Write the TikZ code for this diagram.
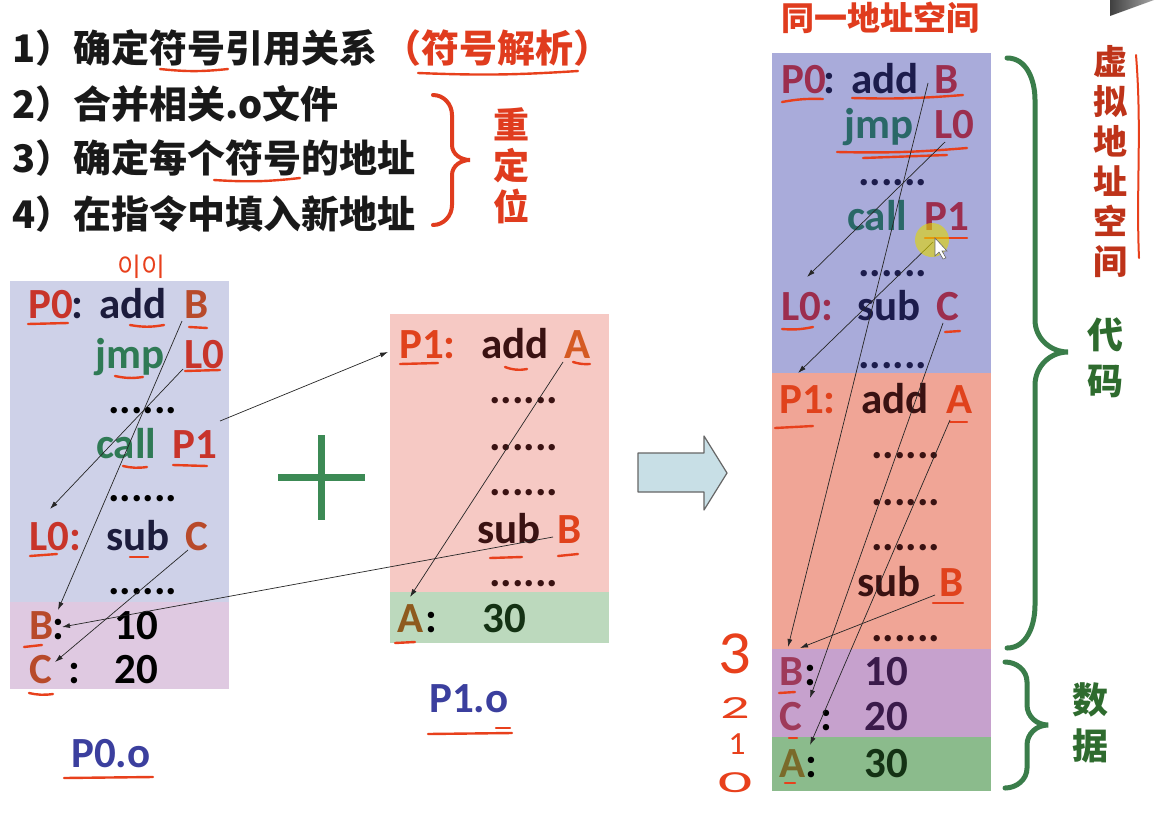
\documentclass[tikz,border=0pt]{standalone}
\usepackage{fontspec}
\usetikzlibrary{arrows.meta}
\newfontfamily\carl{Carlito}
\newfontfamily\cjk{Noto Sans CJK SC}
\newfontfamily\krf{Noto Sans CJK KR}
\definecolor{lblue}{HTML}{CED1E8}
\definecolor{lpurp}{HTML}{DFC9E1}
\definecolor{lpink}{HTML}{F6C9C4}
\definecolor{lgrn}{HTML}{BCD9BD}
\definecolor{rblue}{HTML}{A9ABDA}
\definecolor{rsalm}{HTML}{F0A596}
\definecolor{rpurp}{HTML}{C6A1CD}
\definecolor{rgrn}{HTML}{8BBB8C}
\definecolor{ulred}{HTML}{E8401C}
\definecolor{tred}{HTML}{E03C1E}
\definecolor{cred}{HTML}{C8342A}
\definecolor{cbrown}{HTML}{B84A2A}
\definecolor{cnavy}{HTML}{1C1C3C}
\definecolor{cgreen}{HTML}{2F7A55}
\definecolor{pred}{HTML}{E0421C}
\definecolor{pbrown}{HTML}{3A1212}
\definecolor{porange}{HTML}{D55A22}
\definecolor{polive}{HTML}{8E5A1E}
\definecolor{dgreen}{HTML}{143214}
\definecolor{rmar}{HTML}{9C2E4E}
\definecolor{rteal}{HTML}{2A6868}
\definecolor{rnavy}{HTML}{1C1C4C}
\definecolor{rplum}{HTML}{3A1A4A}
\definecolor{rdmar}{HTML}{9E3A5A}
\definecolor{rolive}{HTML}{7A6A2A}
\definecolor{fblue}{HTML}{3B3F9E}
\definecolor{brgreen}{HTML}{3A7D4A}
\definecolor{txgreen}{HTML}{2E6B2E}
\definecolor{plusg}{HTML}{3C8A55}
\definecolor{arrowfill}{HTML}{C8DFE6}
\newcommand\tokn[5]{\node[tk,text=#4] (#1) at (#2,#3) {#5};}
\begin{document}
\begin{tikzpicture}[x=1pt,y=-1pt,
  tk/.style={anchor=base west, inner sep=0pt, font={\fontsize{43}{44}\selectfont\carl\bfseries}},
  cjkline/.style={anchor=base west, inner sep=0pt, font={\fontsize{38}{40}\selectfont\cjk\bfseries}, text=black!90},
  lnk/.style={-{Latex[length=8pt,width=5pt]}, line width=0.7pt, black!85},
  ul/.style={draw=ulred, line width=2.4pt, line cap=round},
  hand/.style={inner sep=0pt, text=ulred, font={\fontsize{34}{34}\selectfont\carl}},
  brace/.style={line width=5pt, line cap=round, draw=brgreen},
  vtext/.style={align=center, inner sep=0pt, font={\fontsize{34}{40}\selectfont\cjk\bfseries}}]
\useasboundingbox (0,0) rectangle (1158,819);
\fill[white] (0,0) rectangle (1158,819);

% ---------- boxes ----------
\fill[lblue] (10,281) rectangle (229,602);
\fill[lpurp] (10,602) rectangle (229,689);
\fill[lpink] (390,314) rectangle (609,592);
\fill[lgrn]  (390,592) rectangle (609,643);
\fill[rblue] (772,53) rectangle (991,373);
\fill[rsalm] (772,373) rectangle (991,649);
\fill[rpurp] (772,649) rectangle (991,737);
\fill[rgrn]  (772,737) rectangle (991,791);

% ---------- top text ----------
\node[cjkline] (l1) at (12,62) {1）确定符号引用关系};
\node[cjkline, text=tred] (l1r) at ([xshift=6pt]l1.base east) {（符号解析）};
\node[cjkline] (l2) at (12,118) {2）合并相关.o文件};
\node[cjkline] (l3) at (12,172) {3）确定每个符号的地址};
\node[cjkline] (l4) at (12,228) {4）在指令中填入新地址};
\draw[line width=4pt, draw=tred, line cap=round] (433,95) to[out=0,in=90] (452,115) -- (452,145) to[out=-90,in=180] (470,160) to[out=180,in=90] (452,175) -- (452,205) to[out=-90,in=0] (433,225);
\node[vtext, text=tred, font={\fontsize{36}{41}\selectfont\cjk\bfseries}] (cdw) at (511,166) {重\\定\\位};

% ---------- left box P0.o ----------
\node[inner sep=0pt, text=ulred, font={\fontsize{26}{26}\selectfont\krf}] (hw) at (141,267) {이이};
\tokn{p0}{28}{318}{cred}{P0}
\tokn{p0c}{71}{318}{cnavy}{:}
\tokn{p0add}{99}{318}{cnavy}{add}
\tokn{p0B}{184}{318}{cbrown}{B}
\tokn{p0jmp}{95}{368}{cgreen}{jmp}
\tokn{p0L}{184}{368}{cred}{L0}
\tokn{p0d1}{108}{413}{black}{......}
\tokn{p0call}{96}{458}{cgreen}{call}
\tokn{p0P}{172}{458}{cred}{P1}
\tokn{p0d2}{108}{501}{black}{......}
\tokn{p0L0}{29}{550}{cred}{L0:}
\tokn{p0sub}{106}{550}{cnavy}{sub}
\tokn{p0C}{185}{550}{cbrown}{C}
\tokn{p0d3}{108}{594}{black}{......}
\tokn{dB}{29}{639}{cbrown}{B}
\tokn{dBc}{52}{639}{black}{:}
\tokn{dB10}{114}{639}{black}{10}
\tokn{dC}{29}{683}{cbrown}{C}
\tokn{dCc}{68}{683}{black}{:}
\tokn{dC20}{114}{683}{black}{20}
\tokn{f0}{71}{767}{fblue}{P0.o}

% ---------- plus ----------
\draw[line width=7pt, draw=plusg] (278,477) -- (365,477);
\draw[line width=7pt, draw=plusg] (321,435) -- (321,520);

% ---------- P1.o ----------
\tokn{p1}{399}{358}{pred}{P1:}
\tokn{p1add}{481}{358}{pbrown}{add}
\tokn{p1A}{564}{358}{porange}{A}
\tokn{p1d1}{489}{403}{pbrown}{......}
\tokn{p1d2}{489}{450}{pbrown}{......}
\tokn{p1d3}{489}{495}{pbrown}{......}
\tokn{p1sub}{477}{543}{pbrown}{sub}
\tokn{p1B}{557}{543}{pred}{B}
\tokn{p1d4}{489}{586}{pbrown}{......}
\tokn{dA}{397}{632}{polive}{A}
\tokn{dAc}{425}{632}{black}{:}
\tokn{dA30}{482}{632}{dgreen}{30}
\tokn{f1}{429}{712}{fblue}{P1.o}

% ---------- big arrow ----------
\draw[fill=arrowfill, draw=black!60, line width=1.2pt, line join=round] (638,453) -- (704,453) -- (704,436) -- (727,473) -- (704,510) -- (704,492) -- (638,492) -- cycle;

% ---------- right box ----------
\node[inner sep=0pt, text=tred, font={\fontsize{33}{34}\selectfont\cjk\bfseries}] (title) at (880,18) {同一地址空间};
\tokn{r0}{781}{93}{rmar}{P0}
\tokn{r0c}{823}{93}{rnavy}{:}
\tokn{r0add}{851}{93}{rnavy}{add}
\tokn{r0B}{934}{93}{rmar}{B}
\tokn{r0jmp}{844}{138}{rteal}{jmp}
\tokn{r0L}{934}{138}{rmar}{L0}
\tokn{r0d1}{858}{185}{rnavy}{......}
\tokn{r0call}{847}{230}{rteal}{call}
\tokn{r0P}{924}{230}{rmar}{P1}
\tokn{r0d2}{858}{276}{rnavy}{......}
\tokn{r0L0}{781}{320}{rmar}{L0:}
\tokn{r0sub}{857}{320}{rnavy}{sub}
\tokn{r0C}{936}{320}{rmar}{C}
\tokn{r0d3}{858}{368}{rnavy}{......}
\tokn{r1}{779}{413}{pred}{P1:}
\tokn{r1add}{861}{413}{pbrown}{add}
\tokn{r1A}{946}{413}{pred}{A}
\tokn{r1d1}{871}{458}{pbrown}{......}
\tokn{r1d2}{871}{505}{pbrown}{......}
\tokn{r1d3}{871}{550}{pbrown}{......}
\tokn{r1sub}{857}{596}{pbrown}{sub}
\tokn{r1B}{939}{596}{pred}{B}
\tokn{r1d4}{871}{641}{pbrown}{......}
\tokn{rdB}{779}{685}{rdmar}{B}
\tokn{rdBc}{804}{685}{black}{:}
\tokn{rdB10}{864}{685}{rplum}{10}
\tokn{rdC}{779}{730}{rdmar}{C}
\tokn{rdCc}{820}{730}{black}{:}
\tokn{rdC20}{864}{730}{rplum}{20}
\tokn{rdA}{779}{777}{rolive}{A}
\tokn{rdAc}{805}{777}{black}{:}
\tokn{rdA30}{864}{777}{dgreen}{30}

% handwritten digits
\node[hand] (h3) at (735,654) {\scalebox{1.9}[1.8]{3}};
\node[hand] (h2) at (735,708) {\scalebox{1.7}[0.95]{2}};
\node[hand] (h1) at (737,744) {\scalebox{1.0}[0.95]{1}};
\node[hand] (h0) at (735,783) {\scalebox{2.0}[0.9]{0}};

% braces and labels
\draw[brace] (1007,58) to[out=0,in=90] (1035,100) -- (1035,320) to[out=-90,in=180] (1068,352) to[out=180,in=90] (1035,385) -- (1035,605) to[out=-90,in=0] (1007,648);
\draw[brace] (1005,662) to[out=0,in=90] (1027,682) -- (1027,705) to[out=-90,in=180] (1048,725) to[out=180,in=90] (1027,745) -- (1027,768) to[out=-90,in=0] (1005,788);
\node[vtext, text=tred!85!black] (vas) at (1110,162) {虚\\拟\\地\\址\\空\\间};
\node[vtext, text=txgreen, font={\fontsize{36}{46}\selectfont\cjk\bfseries}] (code) at (1105,358) {代\\码};
\node[vtext, text=txgreen, font={\fontsize{36}{46}\selectfont\cjk\bfseries}] (data) at (1090,723) {数\\据};
\draw[draw=ulred, line width=2pt, line cap=round] (1136,55) .. controls (1142,130) and (1136,190) .. (1139,258);

% corner shape
\shade[left color=black!75, right color=black!35] (1110,0) -- (1154,0) -- (1110,16) -- cycle;

% ---------- underlines ----------
\draw[ul] (160,69) to[bend right=6] (228,69);
\draw[ul] (418,73) to[bend right=3] (578,71);
\draw[ul] (214,180) to[bend right=5] (300,178);
\draw[ul] (28,324) -- (68,323);
\draw[ul] (130,325) to[bend right=10] (164,325);
\draw[ul] (189,327) -- (207,328);
\draw[ul] (115,376) to[bend right=10] (143,377);
\draw[ul] (185,371) -- (220,370);
\draw[ul] (123,466) to[bend right=10] (147,467);
\draw[ul] (173,465) -- (207,466);
\draw[ul] (30,556) -- (57,554);
\draw[ul] (130,557) -- (148,557);
\draw[ul] (24,647) -- (42,645);
\draw[ul] (29,693) to[bend right=10] (53,694);
\draw[ul] (64,778) -- (153,777);
\draw[ul] (400,364) -- (438,363);
\draw[ul] (505,367) to[bend right=15] (527,369);
\draw[ul] (573,362) to[bend right=10] (590,364);
\draw[ul] (490,558) -- (522,557);
\draw[ul] (558,556) -- (578,554);
\draw[ul] (395,643) -- (415,642);
\draw[ul] (428,734) -- (512,733);
\draw[ul] (496,728) -- (510,728);
\draw[ul] (782,102) to[bend left=6] (823,99);
\draw[ul] (852,98) to[bend right=3] (963,95);
\draw[ul] (837,152) to[bend right=3] (967,148);
\draw[ul] (863,158) -- (947,155);
\draw[ul] (925,238) -- (967,238);
\draw[ul] (782,329) to[bend right=8] (813,327);
\draw[ul] (945,332) -- (960,331);
\draw[ul] (775,428) -- (813,426);
\draw[ul] (950,422) -- (967,422);
\draw[ul] (933,603) -- (963,603);
\draw[ul] (779,693) -- (795,692);
\draw[ul] (789,738) -- (797,738);
\draw[ul] (785,783) -- (795,783);

% ---------- connectors ----------
\coordinate (aB) at (182,321);   \coordinate (tB) at (58,610);
\coordinate (aL) at (183,369);   \coordinate (tL) at (50,509);
\coordinate (aP) at (220,421);   \coordinate (tP) at (388,352);
\coordinate (aC) at (188,550);   \coordinate (tC) at (55,662);
\coordinate (aB2) at (553,537);  \coordinate (tB2) at (62,627);
\coordinate (aA) at (563,362);   \coordinate (tA) at (410,597);
\draw[lnk] (aB) -- (tB);
\draw[lnk] (aL) -- (tL);
\draw[lnk] (aP) -- (tP);
\draw[lnk] (aC) -- (tC);
\draw[lnk] (aB2) -- (tB2);
\draw[lnk] (aA) -- (tA);
\coordinate (raB) at (928,83);   \coordinate (rtB) at (788,647);
\coordinate (raL) at (945,142);  \coordinate (rtL) at (807,277);
\coordinate (raP) at (933,242);  \coordinate (rtP) at (798,373);
\coordinate (raC) at (943,323);  \coordinate (rtC) at (810,698);
\coordinate (raA) at (950,420);  \coordinate (rtA) at (810,745);
\coordinate (raB2) at (935,595); \coordinate (rtB2) at (800,648);
\draw[lnk] (raB) -- (rtB);
\draw[lnk] (raL) -- (rtL);
\draw[lnk] (raP) -- (rtP);
\draw[lnk] (raC) -- (rtC);
\draw[lnk] (raA) -- (rtA);
\draw[lnk] (raB2) -- (rtB2);

% cursor highlight
\fill[yellow!75!olive, opacity=0.6] (932,240) circle[radius=17pt];
\draw[fill=white, draw=black!60, line width=0.6pt] (935,238) -- (935,256) -- (939,252) -- (943,259) -- (946,258) -- (942,251) -- (947,251) -- cycle;
\end{tikzpicture}
\end{document}
